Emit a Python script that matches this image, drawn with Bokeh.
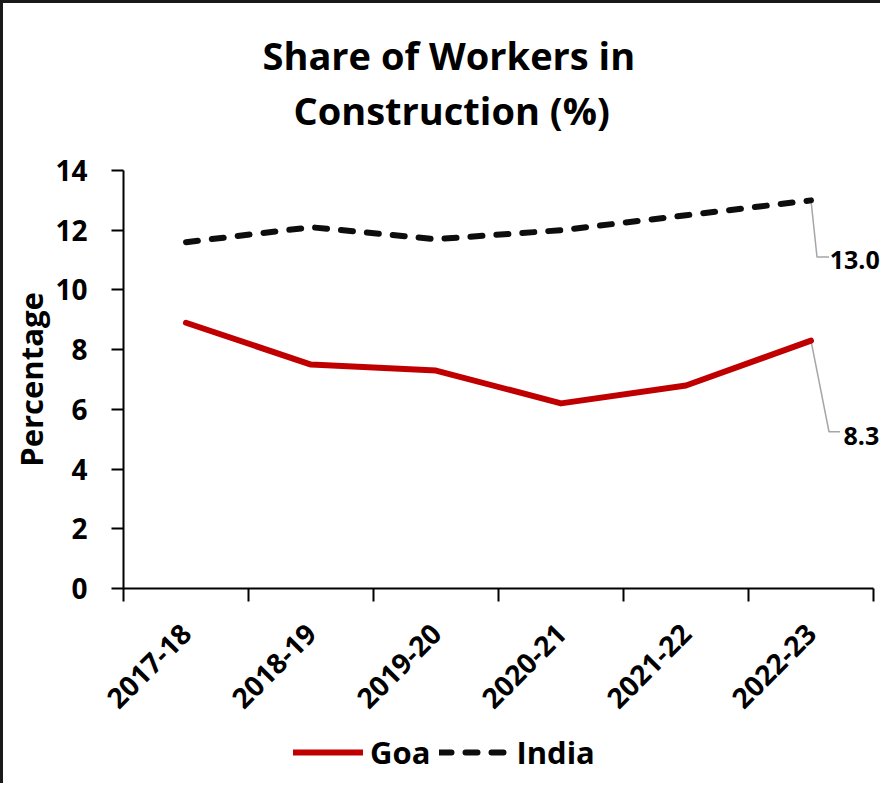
import math
from bokeh.plotting import figure
from bokeh.layouts import column
from bokeh.models import Range1d, FixedTicker, Legend, LegendItem, Label, Title
from bokeh.embed import file_html
from bokeh.resources import INLINE

# ---- data ----
years = ["2017-18", "2018-19", "2019-20", "2020-21", "2021-22", "2022-23"]
goa = [8.9, 7.5, 7.3, 6.2, 6.8, 8.3]
india = [11.6, 12.1, 11.7, 12.0, 12.5, 13.0]
y_ticks = [0, 2, 4, 6, 8, 10, 12, 14]
title_lines = ["Share of Workers in", "Construction (%)"]

FONT = "Open Sans"
GOA_COL = "#C00000"
IND_COL = "#0d0d0d"
n = len(years)
xpos = [i + 0.5 for i in range(n)]

W, H1, H2 = 880, 731, 52
FL, FT, FB = 123, 170, 143          # frame borders (px)
cat_px = 125                         # px per category
x_end = (W - FL) / cat_px            # frame extends a little past last boundary

p = figure(width=W, height=H1, output_backend="svg", toolbar_location=None,
           x_range=Range1d(0, x_end), y_range=Range1d(0, 14),
           min_border_left=FL, min_border_right=0,
           min_border_top=FT, min_border_bottom=FB)
p.border_fill_color = None
p.background_fill_color = None
p.outline_line_color = None
p.xgrid.visible = False
p.ygrid.visible = False

# x axis: labels at category centres, tick marks at boundaries
xa = p.xaxis[0]
xa.bounds = (0, n)
xa.ticker = FixedTicker(ticks=xpos, minor_ticks=list(range(n + 1)))
xa.major_label_overrides = {float(x): y for x, y in zip(xpos, years)}
xa.major_tick_out = 0
xa.major_tick_in = 0
xa.minor_tick_out = 13
xa.minor_tick_in = 0
xa.minor_tick_line_color = "black"
xa.minor_tick_line_width = 2
xa.axis_line_color = "black"
xa.axis_line_width = 2
xa.major_label_orientation = math.pi / 4
xa.major_label_text_font = FONT
xa.major_label_text_font_style = "bold"
xa.major_label_text_font_size = "28px"
xa.major_label_text_color = "black"
xa.major_label_standoff = 27

ya = p.yaxis[0]
ya.ticker = FixedTicker(ticks=y_ticks)
ya.minor_tick_line_color = None
ya.major_tick_out = 12
ya.major_tick_in = 0
ya.major_tick_line_color = "black"
ya.major_tick_line_width = 2
ya.axis_line_color = "black"
ya.axis_line_width = 2
ya.major_label_text_font = FONT
ya.major_label_text_font_style = "bold"
ya.major_label_text_font_size = "28px"
ya.major_label_text_color = "black"
ya.major_label_standoff = 24
ya.axis_label = "Percentage"
ya.axis_label_text_font = FONT
ya.axis_label_text_font_style = "bold"
ya.axis_label_text_font_size = "31px"
ya.axis_label_text_color = "black"
ya.axis_label_standoff = 0

# leader lines for end labels
xl = xpos[-1]
p.line([xl, xl + 0.048, xl + 0.144], [india[-1], india[-1] - 1.9, india[-1] - 1.9],
       line_color="#A6A6A6", line_width=1.5)
p.line([xl, xl + 0.144, xl + 0.232], [goa[-1], goa[-1] - 3.05, goa[-1] - 3.05],
       line_color="#A6A6A6", line_width=1.5)

p.line(xpos, goa, line_color=GOA_COL, line_width=6, line_join="round", line_cap="round")
p.line(xpos, india, line_color=IND_COL, line_width=6, line_dash="12 14",
       line_cap="round", line_join="round")

p.add_layout(Label(x=xl + 0.15, y=india[-1] - 2.0, text=f"{india[-1]:.1f}",
                   text_font=FONT, text_font_style="bold", text_font_size="25px",
                   text_baseline="middle", text_align="left", text_color="black"))
p.add_layout(Label(x=xl + 0.26, y=goa[-1] - 3.2, text=f"{goa[-1]:.1f}",
                   text_font=FONT, text_font_style="bold", text_font_size="25px",
                   text_baseline="middle", text_align="left", text_color="black"))

# two-line title, stacked above the frame (closest item added first)
p.add_layout(Title(text=" ", text_font_size="1px", standoff=30), "above")
p.add_layout(Title(text=title_lines[1], align="left", offset=170, standoff=3,
                   text_font=FONT, text_font_style="bold", text_font_size="38px",
                   text_color="black"), "above")
p.add_layout(Title(text=title_lines[0], align="left", offset=139, standoff=0,
                   text_font=FONT, text_font_style="bold", text_font_size="38px",
                   text_color="black"), "above")

# legend strip below the chart (sample renderers fall outside its visible range)
q = figure(width=W, height=H2, output_backend="svg", toolbar_location=None,
           x_axis_location=None, y_axis_location=None,
           x_range=Range1d(0, 1), y_range=Range1d(0, 1), min_border=0)
q.border_fill_color = None
q.background_fill_color = None
q.outline_line_color = None
q.xgrid.visible = False
q.ygrid.visible = False
lg_goa = q.line(xpos, goa, line_color=GOA_COL, line_width=6, line_cap="round")
lg_ind = q.line(xpos, india, line_color=IND_COL, line_width=6, line_dash="12 14",
                line_cap="round")
legend = Legend(items=[LegendItem(label="Goa", renderers=[lg_goa]),
                       LegendItem(label="India", renderers=[lg_ind])],
                orientation="horizontal", location=(170, 10),
                glyph_width=70, glyph_height=30, label_standoff=7, spacing=9,
                label_text_font=FONT, label_text_font_style="bold",
                label_text_font_size="31px", label_text_color="black",
                border_line_color=None, background_fill_alpha=0,
                padding=0, margin=0)
q.add_layout(legend)

layout = column(p, q, spacing=0)
layout.styles = {"background": "linear-gradient(#1a1a1a,#1a1a1a) left top / 3px 100% no-repeat, "
                               "linear-gradient(#1a1a1a,#1a1a1a) left top / 100% 3px no-repeat, white"}

open("out.html", "w").write(file_html(layout, INLINE))
